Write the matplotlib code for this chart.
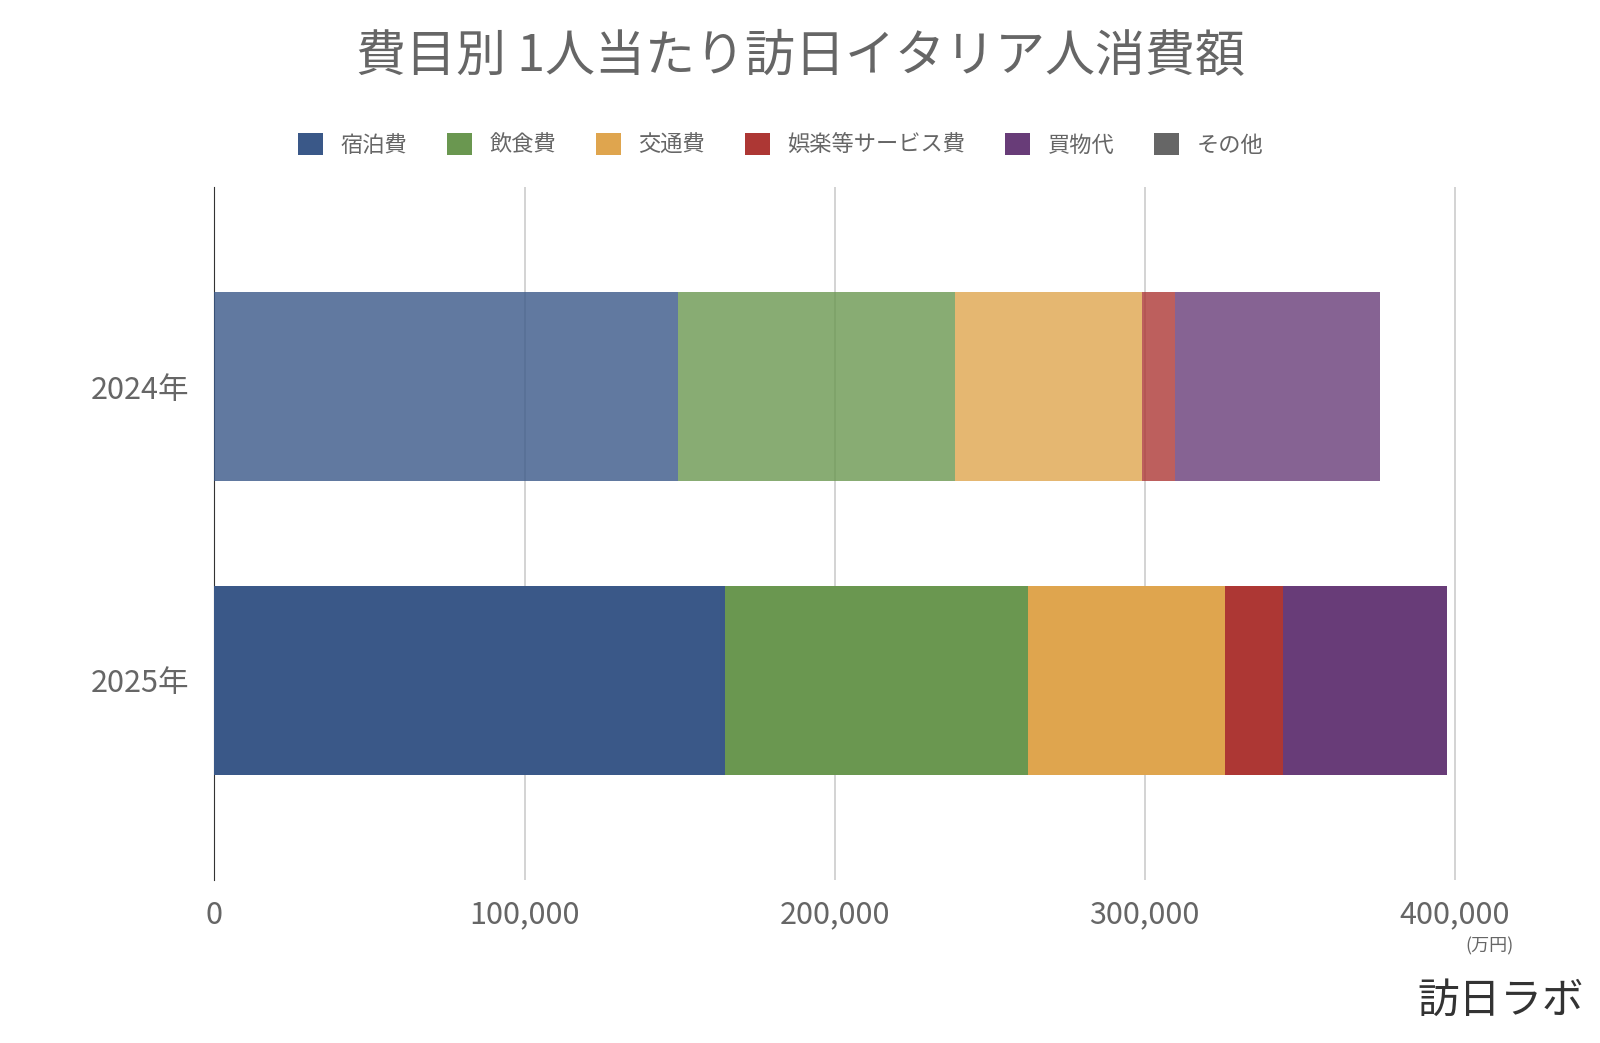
import matplotlib
matplotlib.use("Agg")
import matplotlib.pyplot as plt
from matplotlib.ticker import FuncFormatter

plt.rcParams["font.family"] = "Noto Sans CJK JP"

years = ["2024年", "2025年"]
categories = ["宿泊費", "飲食費", "交通費", "娯楽等サービス費", "買物代", "その他"]
values = {
    "宿泊費": [149400, 164800],
    "飲食費": [89300, 97500],
    "交通費": [60300, 63500],
    "娯楽等サービス費": [10700, 18700],
    "買物代": [66100, 52900],
    "その他": [0, 0],
}
colors = ["#3a5888", "#6a9750", "#dfa54e", "#ad3734", "#683c78", "#666666"]
xticks = [0, 100000, 200000, 300000, 400000]

fig = plt.figure(figsize=(16, 10.43), dpi=100)
ax = fig.add_axes([0.134, 0.156, 0.785, 0.665])
ypos = [0, 1]
left = [0, 0]
for cat, col in zip(categories, colors):
    v = values[cat]
    for i in range(2):
        ax.barh(ypos[i], v[i], left=left[i], height=0.646, color=col,
                alpha=0.8 if i == 0 else 1.0, label=cat if i == 1 else None, zorder=3)
        left[i] += v[i]

ax.set_xlim(0, 405000)
ax.set_ylim(1.68, -0.68)
ax.set_yticks(ypos)
ax.set_yticklabels(years)
ax.set_xticks(xticks)
ax.xaxis.set_major_formatter(FuncFormatter(lambda x, p: f"{int(x):,}"))
ax.grid(axis="x", color="#cccccc", linewidth=1.2, zorder=0)
for s in ["top", "right", "bottom"]:
    ax.spines[s].set_visible(False)
ax.spines["left"].set_color("#333333")
ax.tick_params(length=0, colors="#666666", labelsize=22, pad=14)
ax.tick_params(axis="y", pad=18)

fig.text(0.5, 0.945, "費目別 1人当たり訪日イタリア人消費額", ha="center", va="center",
         fontsize=36, color="#666666")
fig.legend(loc="center", bbox_to_anchor=(0.488, 0.861), ncol=6, frameon=False,
           fontsize=16, labelcolor="#666666", handlelength=1.1, handleheight=1.1,
           columnspacing=1.8, handletextpad=0.8)
fig.text(0.931, 0.088, "(万円)", ha="center", fontsize=13, color="#666666")
fig.text(0.99, 0.04, "訪日ラボ", ha="right", va="center", fontsize=30, color="#333333")
fig.savefig("out.png")
